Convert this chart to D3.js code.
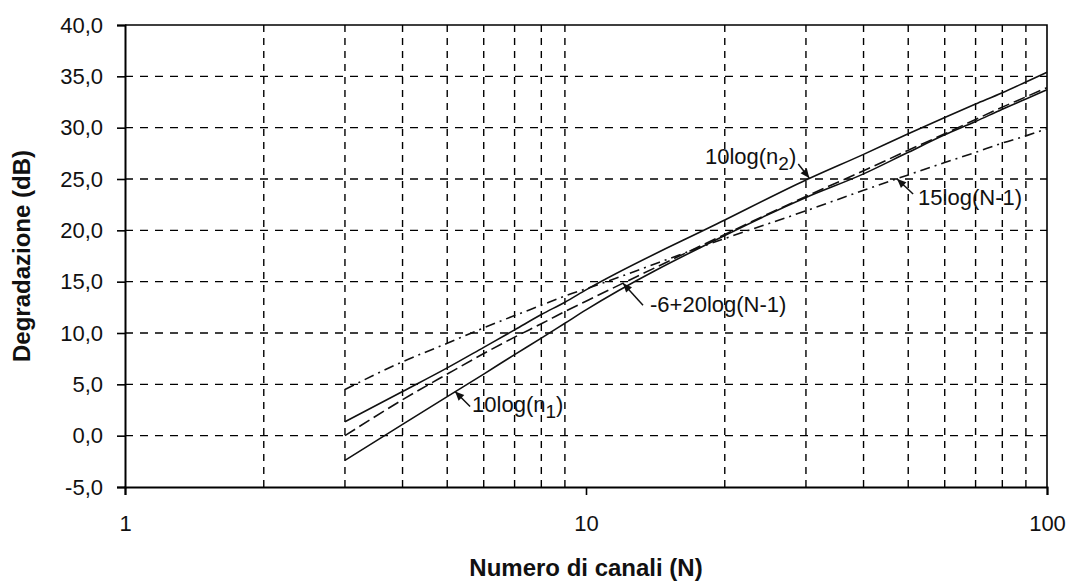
<!DOCTYPE html>
<html>
<head>
<meta charset="utf-8">
<script src="https://cdn.jsdelivr.net/npm/d3@7"></script>
<style>
	body { margin: 0; background: #fff; }
	svg { display: block; font-family: 'Liberation Sans', Arial, sans-serif; }
	.grid-line { stroke: #000; stroke-width: 1.4; fill: none; }
	.curve { fill: none; stroke: #111; stroke-width: 1.6; }
	.tick text { font-size: 22px; fill: #111; }
	.axis-title { font-size: 24px; font-weight: bold; fill: #111; }
	.note { font-size: 22px; fill: #111; }
</style>
</head>
<body>
<div id="chart"></div>
<script>
const channels = [3, 4, 5, 6, 7, 8, 9, 10, 20, 30, 40, 50, 60, 70, 80, 90, 100];
const logN2 = [1.35, 4.3, 6.6, 8.6, 10.3, 11.8, 13.0, 14.2, 21.0, 24.9, 27.4, 29.4, 31.0, 32.3, 33.4, 34.45, 35.4];
const logN1 = [-2.4, 1.1, 3.8, 6.0, 7.9, 9.5, 10.95, 12.25, 19.5, 23.2, 25.5, 27.6, 29.3, 30.6, 31.8, 32.8, 33.7];
const fit20 = [0.0, 3.5, 6.0, 8.0, 9.6, 10.9, 12.1, 13.1, 19.6, 23.3, 25.8, 27.8, 29.4, 30.8, 32.0, 33.0, 33.9];
const fit15 = [4.5, 7.2, 9.0, 10.5, 11.7, 12.7, 13.6, 14.3, 19.2, 21.9, 23.9, 25.4, 26.6, 27.6, 28.5, 29.2, 29.9];

const yTicks = [-5, 0, 5, 10, 15, 20, 25, 30, 35, 40];
const xTicks = [1, 10, 100];
const xGrid = [2, 3, 4, 5, 6, 7, 8, 9, 20, 30, 40, 50, 60, 70, 80, 90];
const yGrid = [0, 5, 10, 15, 20, 25, 30, 35];

// annotations: text, subscript, arrow tip (N, dB)
const noteText = ['10log(n', '15log(N-1)', '-6+20log(N-1)', '10log(n'];
const noteSub = ['2', '', '', '1'];
const noteTipN = [30.5, 47.3, 12.03, 5.2];
const noteTipDb = [25.1, 25.0, 14.85, 4.3];

const W = 1068, H = 584;
const margin = { top: 25, right: 21, bottom: 97, left: 125 };

const svg = d3
	.select('#chart')
	.append('svg')
	.attr('width', W)
	.attr('height', H);

svg.append('rect').attr('width', W).attr('height', H).attr('fill', '#fff');

const x = d3.scaleLog().domain([1, 100]).range([margin.left, W - margin.right]);
const y = d3.scaleLinear().domain([-5, 40]).range([H - margin.bottom, margin.top]);

// grid
svg
	.append('g')
	.selectAll('line')
	.data(xGrid)
	.enter()
	.append('line')
	.attr('class', 'grid-line')
	.attr('x1', d => x(d))
	.attr('x2', d => x(d))
	.attr('y1', y(40))
	.attr('y2', y(-5))
	.attr('stroke-dasharray', '7,6');

svg
	.append('g')
	.selectAll('line')
	.data(yGrid)
	.enter()
	.append('line')
	.attr('class', 'grid-line')
	.attr('x1', x(1))
	.attr('x2', x(100))
	.attr('y1', d => y(d))
	.attr('y2', d => y(d))
	.attr('stroke-dasharray', '8,7');

// frame top / right
svg
	.append('path')
	.attr('d', 'M' + x(1) + ',' + y(40) + 'H' + x(100) + 'V' + y(-5))
	.attr('fill', 'none')
	.attr('stroke', '#000')
	.attr('stroke-width', 1.6);

const yAxis = d3
	.axisLeft(y)
	.tickValues(yTicks)
	.tickSize(8)
	.tickPadding(14)
	.tickFormat(d => d3.format('.1f')(d).replace('.', ',').replace('\u2212', '-'));

const xAxis = d3
	.axisBottom(x)
	.tickValues(xTicks)
	.tickSize(8)
	.tickPadding(20)
	.tickFormat(d3.format('d'));

const yAxisElem = svg
	.append('g')
	.attr('transform', 'translate(' + x(1) + ',0)')
	.call(yAxis);

const xAxisElem = svg
	.append('g')
	.attr('transform', 'translate(0,' + y(-5) + ')')
	.call(xAxis);

[yAxisElem, xAxisElem].forEach(g => {
	g.select('.domain').attr('stroke', '#000').attr('stroke-width', 2);
	g.selectAll('.tick line').attr('stroke', '#000').attr('stroke-width', 1.6);
	g.selectAll('.tick text').attr('font-family', null).attr('font-size', null);
});

svg
	.append('text')
	.attr('class', 'axis-title')
	.attr('text-anchor', 'middle')
	.attr('transform', 'translate(30,' + (margin.top + y.range()[0]) / 2 + ') rotate(-90)')
	.text('Degradazione (dB)');

svg
	.append('text')
	.attr('class', 'axis-title')
	.attr('text-anchor', 'middle')
	.attr('x', (x(1) + x(100)) / 2)
	.attr('y', 576)
	.text('Numero di canali (N)');

// curves
const line = d3
	.line()
	.x(d => x(d[0]))
	.y(d => y(d[1]))
	.curve(d3.curveMonotoneX);

const series = [
	{ values: logN2, dash: null },
	{ values: logN1, dash: null },
	{ values: fit20, dash: '12,5' },
	{ values: fit15, dash: '10,5,2,5' },
];

svg
	.append('g')
	.selectAll('path')
	.data(series)
	.enter()
	.append('path')
	.attr('class', 'curve')
	.attr('d', d => line(channels.map((n, i) => [n, d.values[i]])))
	.attr('stroke-dasharray', d => d.dash);

// annotations
const noteOffsets = [
	{ tail: [-11, -14], text: [-13, -14], anchor: 'end' },
	{ tail: [16, 15], text: [21, 26], anchor: 'start' },
	{ tail: [20, 22], text: [27, 29], anchor: 'start' },
	{ tail: [15, 15], text: [17, 20], anchor: 'start' },
];

const notes = svg
	.append('g')
	.selectAll('g')
	.data(noteText.map((t, i) => ({ t, sub: noteSub[i], tx: x(noteTipN[i]), ty: y(noteTipDb[i]), o: noteOffsets[i] })))
	.enter()
	.append('g');

notes
	.append('line')
	.attr('x1', d => d.tx + d.o.tail[0])
	.attr('y1', d => d.ty + d.o.tail[1])
	.attr('x2', d => d.tx)
	.attr('y2', d => d.ty)
	.attr('stroke', '#111')
	.attr('stroke-width', 1.5);

notes
	.append('path')
	.attr('d', d => {
		const a = Math.atan2(d.o.tail[1], d.o.tail[0]);
		const len = 9, hw = 4;
		const bx = d.tx + Math.cos(a) * len, by = d.ty + Math.sin(a) * len;
		const px = -Math.sin(a) * hw, py = Math.cos(a) * hw;
		return 'M' + d.tx + ',' + d.ty + 'L' + (bx + px) + ',' + (by + py) + 'L' + (bx - px) + ',' + (by - py) + 'Z';
	})
	.attr('fill', '#111');

const noteLabels = notes
	.append('text')
	.attr('class', 'note')
	.attr('x', d => d.tx + d.o.text[0])
	.attr('y', d => d.ty + d.o.text[1])
	.attr('text-anchor', d => d.o.anchor);

noteLabels.append('tspan').text(d => d.t);
noteLabels
	.filter(d => d.sub)
	.append('tspan')
	.attr('font-size', 19)
	.attr('dy', 6)
	.text(d => d.sub);
noteLabels
	.filter(d => d.sub)
	.append('tspan')
	.attr('dy', -6)
	.text(')');
</script>
</body>
</html>
